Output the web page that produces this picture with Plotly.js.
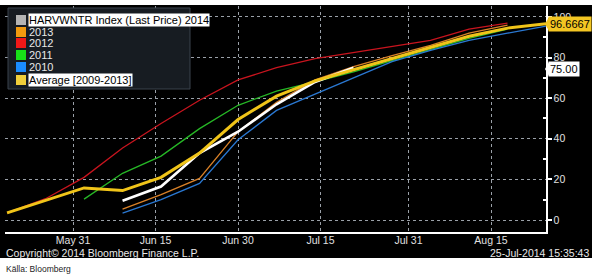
<!DOCTYPE html>
<html><head><meta charset="utf-8">
<script src="https://cdn.plot.ly/plotly-3.0.1.min.js"></script>
<style>html,body{margin:0;padding:0;background:#fff}#c{width:595px;height:278px}</style>
</head><body><div id="c"></div>
<script>
// ---- data ----
const datesIdx = ['2014-06-09','2014-06-16','2014-06-23','2014-06-30','2014-07-07','2014-07-14','2014-07-21'];
const valsIdx = [9.5,16.5,33,43.5,57,68,75];
const dates2013 = ['2014-06-09','2014-06-16','2014-06-23','2014-06-30','2014-07-07','2014-07-14','2014-07-21','2014-07-28','2014-08-04','2014-08-11','2014-08-18'];
const vals2013 = [5.4,12.5,20.5,43.5,58,69,75.5,81,86,92,96];
const dates2012 = ['2014-05-19','2014-05-26','2014-06-02','2014-06-09','2014-06-16','2014-06-23','2014-06-30','2014-07-07','2014-07-14','2014-07-21','2014-07-28','2014-08-04','2014-08-11','2014-08-18'];
const vals2012 = [3.5,10.5,21,35.5,47.5,59,69,75,79.5,82.5,85.5,88.5,94,97];
const dates2011 = ['2014-06-02','2014-06-09','2014-06-16','2014-06-23','2014-06-30','2014-07-07','2014-07-14','2014-07-21','2014-07-28','2014-08-04','2014-08-11','2014-08-18'];
const vals2011 = [10.3,23,31.5,45,56.5,63.5,68,73,78.5,84,89.5,94];
const dates2010 = ['2014-06-09','2014-06-16','2014-06-23','2014-06-30','2014-07-07','2014-07-14','2014-07-21','2014-07-28','2014-08-04','2014-08-11','2014-08-18','2014-08-25'];
const vals2010 = [3.4,10,18,39.5,54,62,70,78,83.5,88.5,92,95.5];
const datesAvg = ['2014-05-19','2014-05-26','2014-06-02','2014-06-09','2014-06-16','2014-06-23','2014-06-30','2014-07-07','2014-07-14','2014-07-21','2014-07-28','2014-08-04','2014-08-11','2014-08-18','2014-08-25'];
const valsAvg = [3.5,9.5,15.8,14.5,21,33,49.5,61,68.5,74,79.5,85,90.5,94.5,96.6667];
const xTickVals = ['2014-05-31','2014-06-15','2014-06-30','2014-07-15','2014-07-31','2014-08-15'];
const xTickText = ['May 31','Jun 15','Jun 30','Jul 15','Jul 31','Aug 15'];
const yTickVals = [0,20,40,60,80,100];
const legendNames = ['HARVWNTR Index (Last Price) 2014','2013','2012','2011','2010','Average [2009-2013]'];
const lastIdx = '75.00';
const lastAvg = '96.6667';

// ---- geometry helpers (pixel -> paper) ----
const W=595,H=278,L=5,R=49,T=6,B=46;
const pw=W-L-R, ph=H-T-B;
const px=x=>(x-L)/pw, py=y=>(H-B-y)/ph;
const FONT='Liberation Sans, Arial, sans-serif';

function tr(x,y,name,color,width){return {x:x,y:y,name:name,type:'scatter',mode:'lines',line:{color:color,width:width},showlegend:false,hoverinfo:'skip'};}
const data=[
  tr(dates2012,vals2012,legendNames[2],'#c8141e',1.3),
  tr(dates2011,vals2011,legendNames[3],'#26b826',1.3),
  tr(dates2010,vals2010,legendNames[4],'#2a78d2',1.3),
  tr(dates2013,vals2013,legendNames[1],'#d98128',1.3),
  tr(datesIdx,valsIdx,legendNames[0],'#ffffff',2.6),
  tr(datesAvg,valsAvg,legendNames[5],'#f0c419',3)
];

const grad='<svg xmlns="http://www.w3.org/2000/svg" width="100" height="100" preserveAspectRatio="none"><defs><linearGradient id="g" x1="0" y1="0" x2="0" y2="1"><stop offset="0" stop-color="#22303d"/><stop offset="1" stop-color="#0a0b0e"/></linearGradient></defs><rect width="100" height="100" fill="url(#g)"/></svg>';

const shapes=[
  {type:'rect',xref:'paper',yref:'paper',x0:px(0),x1:px(592),y0:py(258),y1:py(5),fillcolor:'#000',line:{width:0},layer:'below'},
  {type:'rect',xref:'paper',yref:'paper',x0:px(8),x1:px(190),y0:py(89),y1:py(8),fillcolor:'#171c22',line:{color:'#3a424c',width:1},layer:'above'}
];
const legCols=['#b4b4b4','#f29a0e','#f01818','#18e018','#1a8cff','#f2cf3a'];
const rowY=[20,32,43,55,67,80];
const annotations=[];
legendNames.forEach((n,i)=>{
  shapes.push({type:'rect',xref:'paper',yref:'paper',x0:px(16),x1:px(26),y0:py(rowY[i]+5),y1:py(rowY[i]-5),fillcolor:legCols[i],line:{width:0},layer:'above'});
  const hl=(i===0||i===5);
  annotations.push({xref:'paper',yref:'paper',x:px(28),y:py(rowY[i]),xanchor:'left',yanchor:'middle',text:n,showarrow:false,
    font:{family:FONT,size:11,color:hl?'#000':'#e8e8e8'},bgcolor:hl?'#ffffff':'rgba(0,0,0,0)',borderpad:0});
});
shapes.push({type:'path',xref:'paper',yref:'paper',path:`M ${px(545)} ${py(24)} L ${px(549)} ${py(17)} L ${px(549)} ${py(31)} Z`,fillcolor:'#f3c623',line:{width:0},layer:'above'});
shapes.push({type:'path',xref:'paper',yref:'paper',path:`M ${px(545)} ${py(69)} L ${px(549)} ${py(62)} L ${px(549)} ${py(76)} Z`,fillcolor:'#ffffff',line:{width:0},layer:'above'});
annotations.push({xref:'paper',yref:'y',x:px(548),y:96.6667,xanchor:'left',yanchor:'middle',text:lastAvg,showarrow:false,font:{family:FONT,size:11,color:'#000'},bgcolor:'#f3c623',borderpad:1});
annotations.push({xref:'paper',yref:'y',x:px(548),y:74.5,xanchor:'left',yanchor:'middle',text:lastIdx,showarrow:false,font:{family:FONT,size:11,color:'#000'},bgcolor:'#ffffff',borderpad:1});
annotations.push({xref:'paper',yref:'paper',x:px(4),y:py(252.5),xanchor:'left',yanchor:'middle',text:'Copyright© 2014 Bloomberg Finance L.P.',showarrow:false,font:{family:FONT,size:10.5,color:'#e8e8e8'}});
annotations.push({xref:'paper',yref:'paper',x:px(591),y:py(252.5),xanchor:'right',yanchor:'middle',text:'25-Jul-2014 15:35:43',showarrow:false,font:{family:FONT,size:10.5,color:'#e8e8e8'}});
annotations.push({xref:'paper',yref:'paper',x:px(4),y:py(269),xanchor:'left',yanchor:'middle',text:'Källa: Bloomberg',showarrow:false,font:{family:FONT,size:8.5,color:'#222'}});

const layout={
  width:W,height:H,margin:{l:L,r:R,t:T,b:B,pad:0},
  paper_bgcolor:'#ffffff',plot_bgcolor:'rgba(0,0,0,0)',
  showlegend:false,
  font:{family:FONT,size:10,color:'#e0e0e0'},
  images:[{source:'data:image/svg+xml;charset=utf-8,'+encodeURIComponent(grad),xref:'paper',yref:'paper',x:px(0),y:py(5),sizex:(592)/pw,sizey:(232-5)/ph,xanchor:'left',yanchor:'top',sizing:'stretch',layer:'below'}],
  xaxis:{type:'date',range:['2014-05-18 15:00','2014-08-25 00:00'],tickvals:xTickVals,ticktext:xTickText,ticks:'',ticklen:0,ticklabelstandoff:-3,
    showgrid:true,gridcolor:'#9aa0a8',griddash:'dot',gridwidth:1,showline:true,linecolor:'#ffffff',linewidth:2,
    tickfont:{family:FONT,size:10.5,color:'#e0e0e0'},zeroline:false,fixedrange:true},
  yaxis:{range:[-5.9,105.4],side:'right',tickvals:yTickVals,ticks:'outside',ticklen:4,tickwidth:2,tickcolor:'#ffffff',
    showgrid:true,gridcolor:'#9aa0a8',griddash:'dot',gridwidth:1,showline:true,linecolor:'#ffffff',linewidth:1.5,
    minor:{tickvals:[10,30,50,70,90],ticks:'inside',ticklen:3,tickcolor:'#ffffff',showgrid:false},
    tickfont:{family:FONT,size:10.5,color:'#e0e0e0'},zeroline:false,fixedrange:true},
  shapes:shapes,annotations:annotations
};
Plotly.newPlot('c',data,layout,{staticPlot:true,displayModeBar:false});
</script></body></html>
